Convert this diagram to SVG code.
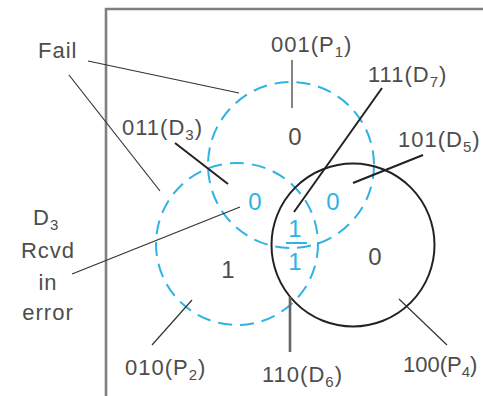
<svg xmlns="http://www.w3.org/2000/svg" width="483" height="396" viewBox="0 0 483 396">
<style>
text{font-family:"Liberation Sans",Arial,sans-serif;fill:#4d4d4d;font-size:22px;letter-spacing:1px}
.sub{font-size:15px}
.num{font-size:24px;text-anchor:middle;letter-spacing:0}
.blue{fill:#2fb2e4}
.dash{fill:none;stroke:#2fb2e4;stroke-width:2;stroke-dasharray:14 8}
.leader{stroke:#333;stroke-width:1.2;fill:none}
.thick{stroke:#222;stroke-width:2;fill:none}
</style>
<rect width="483" height="396" fill="#fff"/>
<g id="frame"><polyline points="106,396 106,9 483,9" fill="none" stroke="#808080" stroke-width="2.6"/></g>
<g id="P1"><circle cx="291" cy="165" r="83" class="dash"/><text class="num" x="295" y="145" fill="#333">0</text></g>
<g id="P2"><circle cx="237" cy="244" r="81" class="dash"/><text class="num" x="228" y="278" fill="#333">1</text></g>
<g id="P4"><circle cx="353" cy="245" r="81.5" fill="none" stroke="#222" stroke-width="2"/><text class="num" x="375" y="265" fill="#333">0</text></g>
<g id="D3"><text class="num blue" x="255" y="210">0</text></g>
<g id="D5"><text class="num blue" x="333" y="210">0</text></g>
<g id="D7"><text class="num blue" x="295" y="237">1</text><line x1="286" y1="243" x2="307" y2="243" stroke="#2fb2e4" stroke-width="2"/><text class="num blue" x="295" y="270">1</text></g>
<g id="connectors">
<line class="leader" x1="88" y1="61" x2="239" y2="93"/>
<line class="leader" x1="69" y1="75" x2="160" y2="191"/>
<line class="thick" x1="175" y1="143" x2="228" y2="184"/>
<line class="leader" x1="292" y1="60" x2="292" y2="108"/>
<line class="thick" x1="382" y1="88" x2="294" y2="212"/>
<line class="thick" x1="423" y1="155" x2="353" y2="183" stroke-width="1.6"/>
<line class="leader" x1="72" y1="274" x2="240" y2="207"/>
<line class="leader" x1="152" y1="345" x2="192" y2="300"/>
<line x1="290" y1="297" x2="290" y2="352" stroke="#666" stroke-width="2.6"/>
<line class="leader" x1="447" y1="345" x2="399" y2="299"/>
</g>
<g id="labels">
<text x="38" y="58">Fail</text>
<text x="271" y="52">001(P<tspan class="sub" dy="5">1</tspan><tspan dy="-5">)</tspan></text>
<text x="368" y="82">111(D<tspan class="sub" dy="5">7</tspan><tspan dy="-5">)</tspan></text>
<text x="122" y="135">011(D<tspan class="sub" dy="5">3</tspan><tspan dy="-5">)</tspan></text>
<text x="398" y="147">101(D<tspan class="sub" dy="5">5</tspan><tspan dy="-5">)</tspan></text>
<text x="33" y="225">D<tspan class="sub" dy="5">3</tspan></text>
<text x="48" y="258" text-anchor="middle">Rcvd</text>
<text x="48" y="290" text-anchor="middle">in</text>
<text x="48" y="320" text-anchor="middle">error</text>
<text x="125" y="375">010(P<tspan class="sub" dy="5">2</tspan><tspan dy="-5">)</tspan></text>
<text x="262" y="382">110(D<tspan class="sub" dy="5">6</tspan><tspan dy="-5">)</tspan></text>
<text x="403" y="372" style="letter-spacing:0">100(P<tspan class="sub" dy="5">4</tspan><tspan dy="-5">)</tspan></text>
</g>
</svg>
